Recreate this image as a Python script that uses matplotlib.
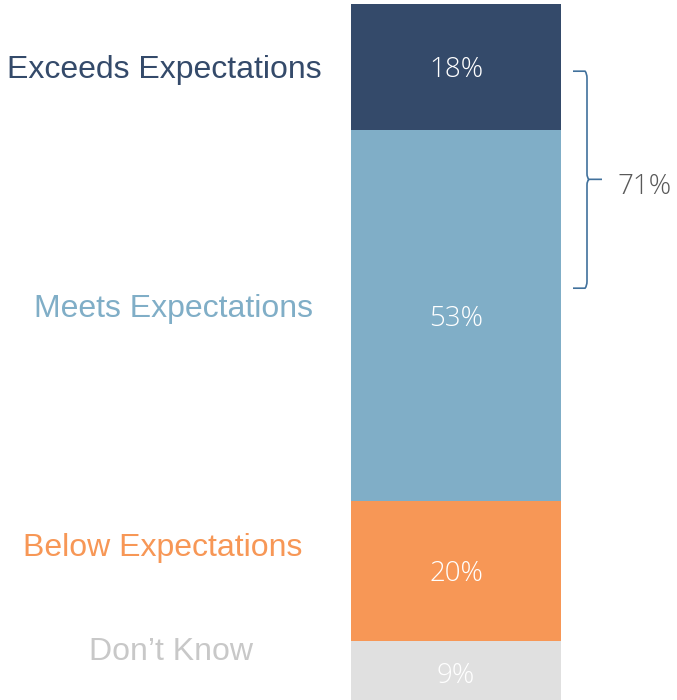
import matplotlib.pyplot as plt
from matplotlib.path import Path
from matplotlib.patches import PathPatch
from matplotlib.transforms import blended_transform_factory

# rating breakdown, stacked bottom to top
categories = ["Don\u2019t Know", "Below Expectations", "Meets Expectations", "Exceeds Expectations"]
shares = [9, 20, 53, 18]
colors = ["#E0E0E0", "#F79756", "#80AEC7", "#344A6A"]
text_colors = ["#C8C8C8", "#F79756", "#80AEC7", "#344A6A"]
# left-hand label heights, as a fraction of figure height
label_y = [0.0685, 0.2165, 0.5585, 0.9005]
label_x = [171, 163, 173, 164]

fig = plt.figure(figsize=(6.77, 7.0), dpi=100)
ax = fig.add_axes([0, 0, 1, 1])
ax.set_xlim(0, 677)
ax.set_ylim(0.57, 100.57)
ax.axis("off")

bottom = 0
for share, col in zip(shares, colors):
    ax.bar(456, share, width=210, bottom=bottom, color=col, linewidth=0)
    ax.text(456, bottom + share / 2, f"{share}%", color="white", ha="center",
            va="center_baseline", fontsize=20, family="Open Sans", fontweight="light")
    bottom += share

xy_mix = blended_transform_factory(ax.transData, ax.transAxes)
for cat, tc, lx, ly in zip(categories, text_colors, label_x, label_y):
    ax.text(lx, ly, cat, color=tc, ha="center", va="center", fontsize=23,
            family=["Liberation Sans", "DejaVu Sans"], transform=xy_mix)

# the bracket around the top two groups
top_total = shares[2] + shares[3]
y_top, y_bot = 90.4, 59.4
y_mid = (y_top + y_bot) / 2 + 0.05
x0, x1, x2 = 573, 587, 602
verts = [(x0, y_top), (x1 - 2, y_top), (x1, y_top - 0.3), (x1, y_top - 1),
         (x1, y_mid + 0.8), (x1, y_mid + 0.2), (x1 + 2, y_mid), (x2, y_mid),
         (x1 + 2, y_mid), (x1, y_mid - 0.2), (x1, y_mid - 0.8),
         (x1, y_bot + 1), (x1, y_bot + 0.3), (x1 - 2, y_bot), (x0, y_bot)]
codes = [Path.MOVETO, Path.LINETO, Path.CURVE3, Path.CURVE3,
         Path.LINETO, Path.CURVE3, Path.CURVE3, Path.LINETO,
         Path.MOVETO, Path.CURVE3, Path.CURVE3,
         Path.LINETO, Path.CURVE3, Path.CURVE3, Path.LINETO]
ax.add_patch(PathPatch(Path(verts, codes), fill=False, edgecolor="#41719C", lw=1.2))
ax.text(645, y_mid - 0.6, f"{top_total}%", color="#595959", ha="center",
        va="center_baseline", fontsize=20, family="Open Sans", fontweight="light")

fig.savefig("out.png")
